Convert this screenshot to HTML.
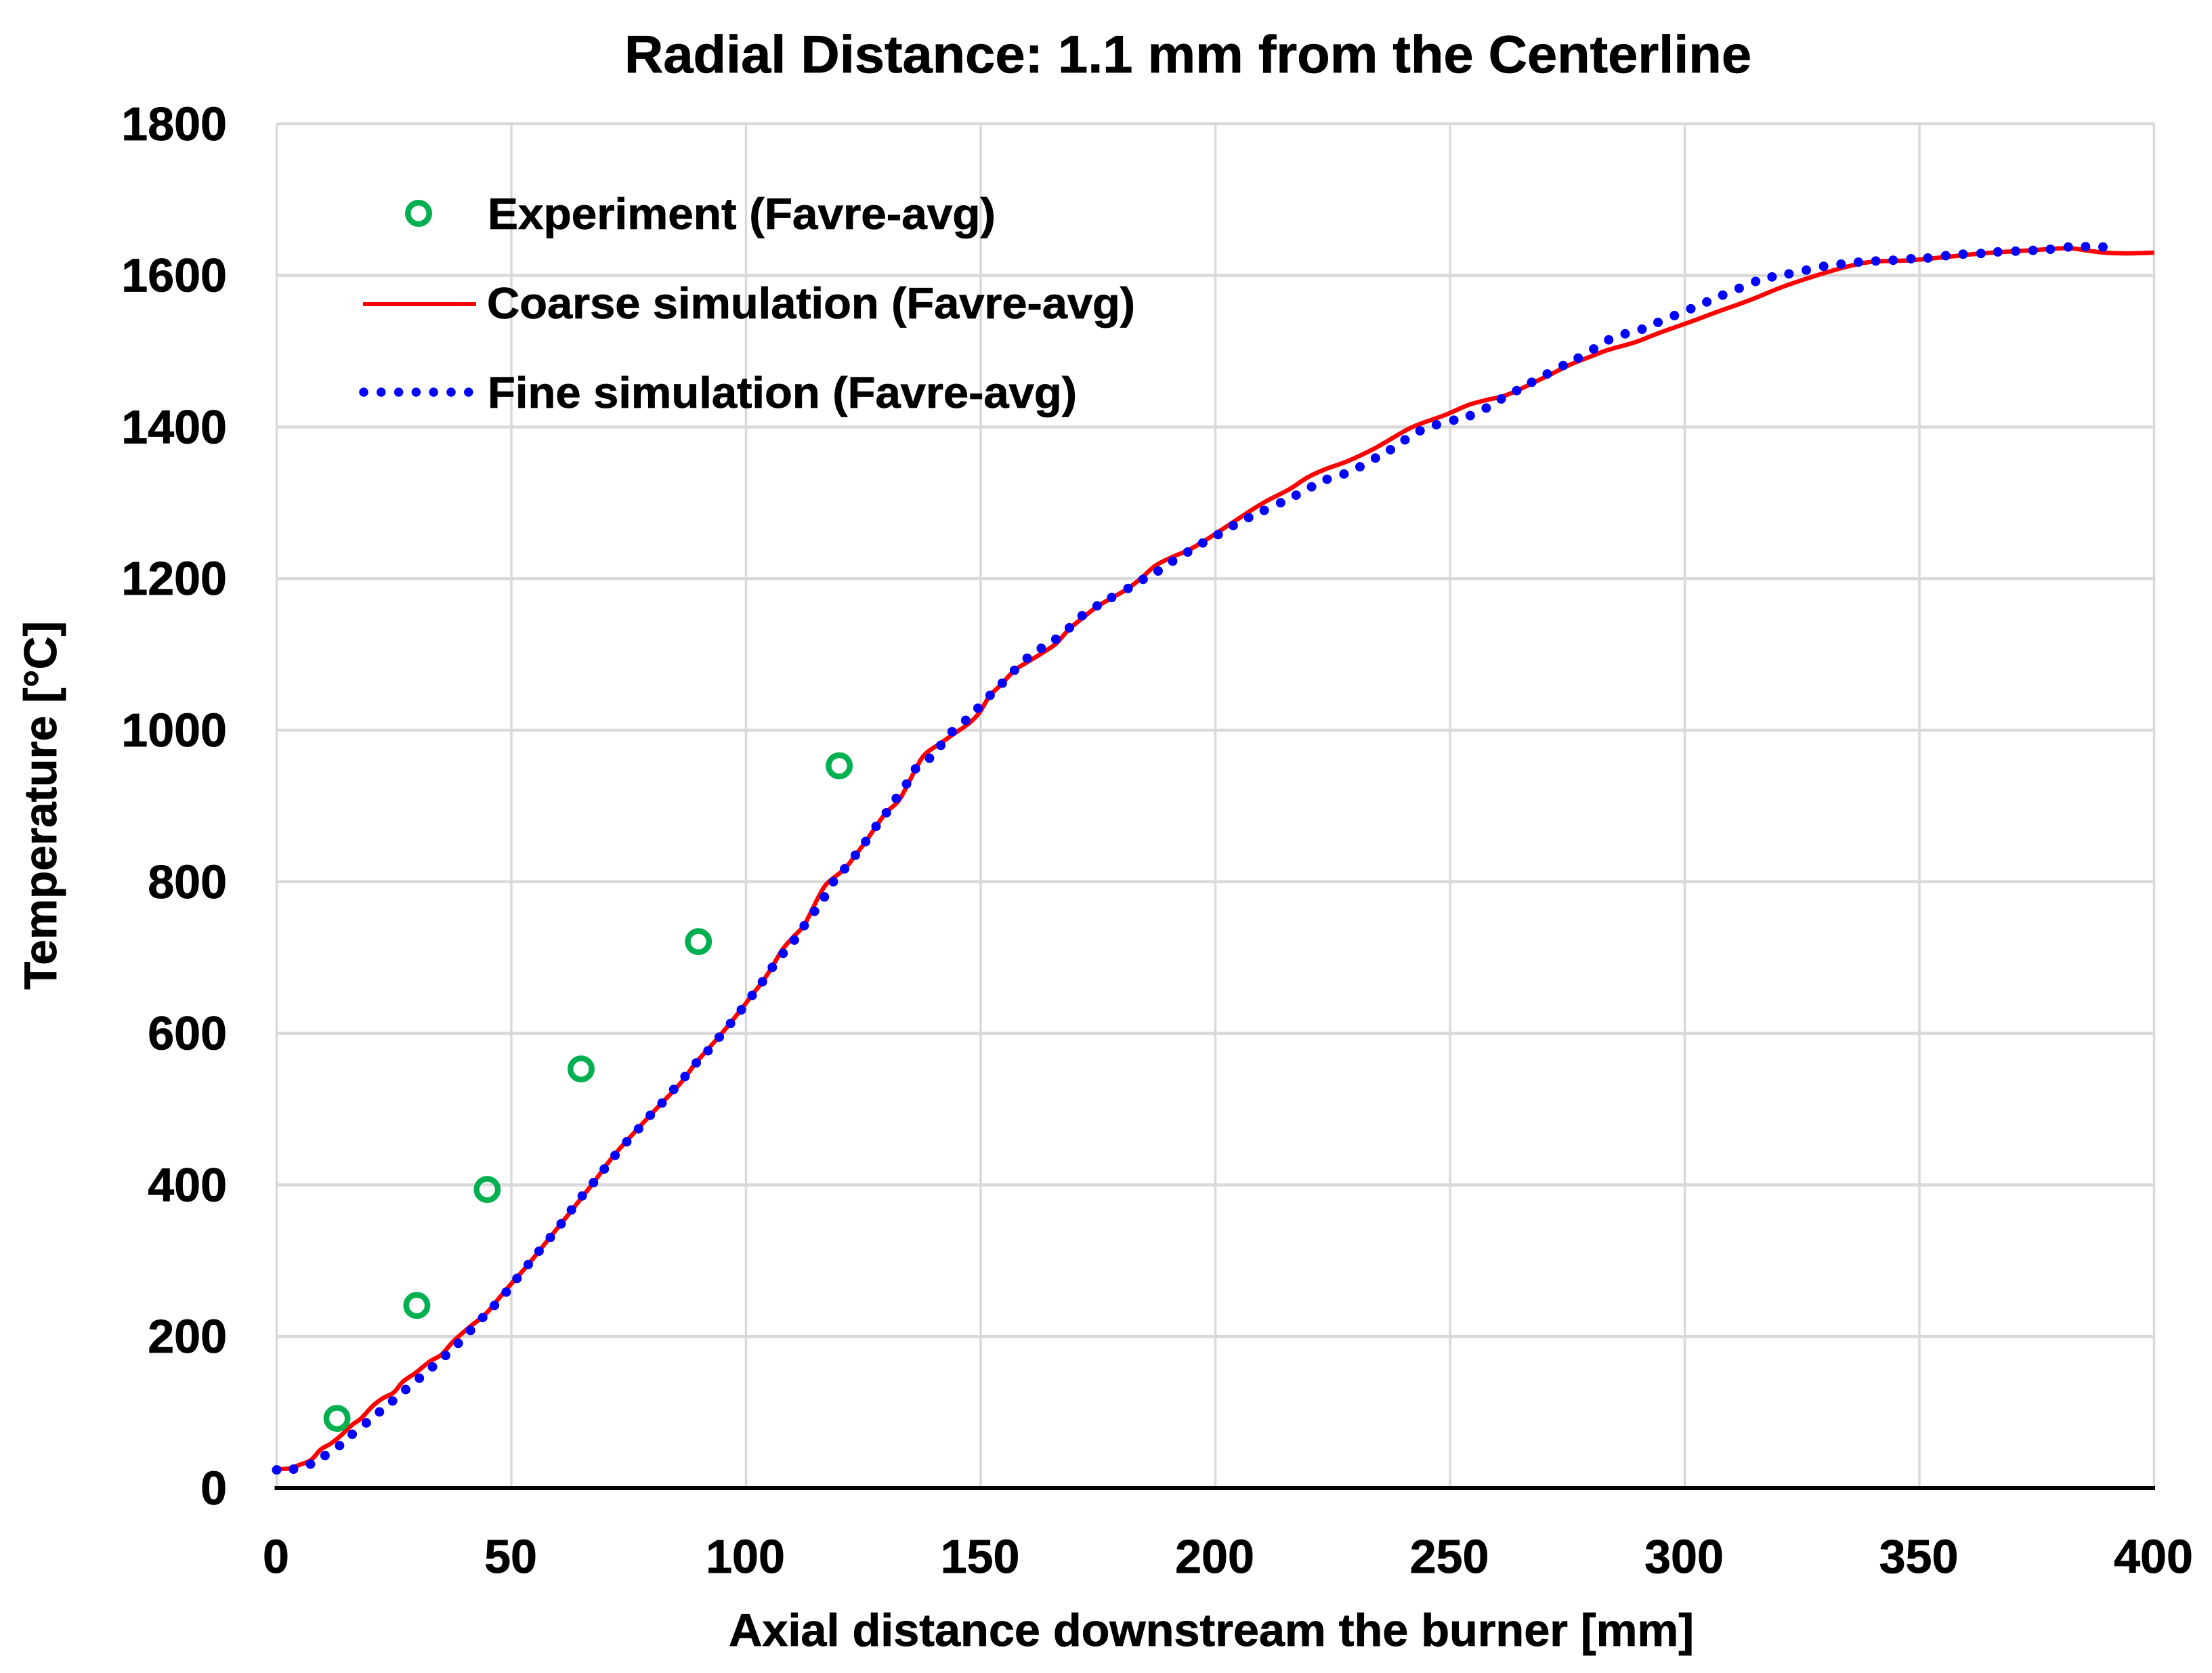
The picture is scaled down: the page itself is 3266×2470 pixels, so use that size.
<!DOCTYPE html>
<html lang="en">
<head>
<meta charset="utf-8">
<title>Radial Distance: 1.1 mm from the Centerline</title>
<style>
html,body{margin:0;padding:0;background:#fff;}
svg{display:block;}
text{font-family:"Liberation Sans",Arial,sans-serif;font-weight:700;fill:#000;stroke:#000;stroke-width:0.8px;}
</style>
</head>
<body>
<svg id="chart" xmlns="http://www.w3.org/2000/svg" width="3266" height="2470" viewBox="0 0 3266 2470">
  <rect x="0" y="0" width="3266" height="2470" fill="#fff"/>
  <g id="grid"></g>
  <line x1="405.5" y1="2197" x2="3182" y2="2197" stroke="#000" stroke-width="6"/>
  <g id="ticks"></g>
  <g id="series"></g>
  <text x="922" y="107" font-size="78" textLength="1664" lengthAdjust="spacingAndGlyphs">Radial Distance: 1.1 mm from the Centerline</text>
  <text x="1076" y="2430" font-size="68" textLength="1425" lengthAdjust="spacingAndGlyphs">Axial distance downstream the burner [mm]</text>
  <text transform="translate(83,1461) rotate(-90)" x="0" y="0" font-size="68" textLength="544" lengthAdjust="spacingAndGlyphs">Temperature [°C]</text>
  <g>
    <circle cx="618" cy="315" r="15.7" fill="none" stroke="#00b050" stroke-width="8.5"/>
    <text x="720" y="338" font-size="65" textLength="750" lengthAdjust="spacingAndGlyphs">Experiment (Favre-avg)</text>
    <line x1="536" y1="449" x2="703" y2="449" stroke="#ff0000" stroke-width="6"/>
    <text x="719" y="470" font-size="65" textLength="957" lengthAdjust="spacingAndGlyphs">Coarse simulation (Favre-avg)</text>
    <line x1="537" y1="579" x2="693" y2="579" stroke="#0000ff" stroke-width="13.5" stroke-linecap="round" stroke-dasharray="0 25.8"/>
    <text x="720" y="602" font-size="65" textLength="870" lengthAdjust="spacingAndGlyphs">Fine simulation (Favre-avg)</text>
  </g>
</svg>
<script>
const xTicks = [0, 50, 100, 150, 200, 250, 300, 350, 400];
const yTicks = [0, 200, 400, 600, 800, 1000, 1200, 1400, 1600, 1800];

const experimentX = [13, 30, 45, 65, 90, 120];
const experimentT = [92, 241, 394, 553, 721, 953];

const coarseX = [0, 2.7, 5, 7.3, 9.4, 11.6, 13.8, 16, 18, 20.4, 22.6, 24.9, 27, 29.6, 32.6, 35.1, 37.7, 41, 44.4, 46.9, 49.9, 53.6, 58, 62.8, 67.5, 72, 79.6, 86, 89.3, 94.3, 98.9, 101.2, 103.5, 105.5, 107.7, 109.9, 112.3, 114.3, 115.8, 117.3, 121, 123.3, 125.5, 127.7, 129.8, 132.4, 134.1, 136.1, 138.1, 141.6, 144.5, 147.5, 149.7, 151.9, 154.5, 157.2, 160, 162.9, 166, 168.8, 171.9, 174.8, 178.1, 181.4, 184.3, 187.2, 191, 194.1, 197.2, 200.5, 203.8, 207.1, 210.8, 215.8, 219.5, 223.3, 228.2, 234, 240.7, 244, 249, 253.9, 258, 261, 264.3, 267.6, 271.3, 275.5, 280.4, 283.8, 289.5, 294.5, 301.8, 306.5, 313.7, 320.9, 328.1, 335.2, 340, 348, 355.2, 363.2, 373.5, 381.5, 385.5, 389.5, 394.3, 400];
const coarseT = [25, 26, 31, 37, 51, 59, 70, 83, 92, 108, 118.5, 126, 141, 152, 167, 176, 194, 212, 229, 247, 269, 295, 329, 366, 403, 440, 492, 534, 561, 596, 631, 650, 668, 687, 710, 726, 742, 766, 784, 798, 817, 835, 853, 873, 891, 906, 924, 948, 968, 983.5, 996, 1009, 1023, 1045, 1061, 1079, 1090, 1101, 1114, 1133, 1149, 1163, 1175, 1187, 1201, 1217, 1229, 1237, 1248, 1261, 1274.5, 1288, 1302, 1318, 1333, 1344, 1355, 1372, 1396, 1405, 1416, 1429, 1436, 1440, 1448, 1458, 1469, 1482, 1494, 1502, 1512, 1524, 1540, 1551, 1567, 1585, 1600, 1612.5, 1618, 1620, 1624, 1629, 1633, 1636, 1633, 1630, 1629, 1630];

const fineX = [0, 3.6, 7.2, 10.3, 13.4, 16.1, 19.1, 21.9, 24.7, 27.5, 30.4, 33.2, 36, 38.7, 41.3, 43.9, 46.4, 48.9, 51.2, 53.6, 55.9, 58.3, 60.6, 62.8, 65.1, 67.5, 69.8, 72.1, 74.6, 77.1, 79.6, 82.1, 84.6, 87, 89.4, 91.9, 94.3, 96.7, 99, 101.3, 103.5, 105.6, 107.9, 110.3, 112.4, 114.6, 116.7, 118.6, 121, 123.3, 125.5, 127.7, 129.9, 132, 134.2, 136.1, 139.1, 141.5, 143.9, 146.8, 149.4, 152, 154.6, 157.2, 159.9, 162.9, 166, 168.9, 171.6, 174.8, 177.9, 181.4, 184.6, 187.8, 190.9, 194.1, 197.3, 200.6, 203.8, 207.1, 210.4, 213.9, 217.2, 220.5, 223.8, 227.4, 230.8, 234.1, 237.3, 240.4, 243.6, 247.1, 250.8, 254.3, 257.7, 260.9, 264.2, 267.4, 270.7, 274.1, 277.3, 280.6, 283.8, 287.3, 290.9, 294.3, 297.8, 301.3, 304.7, 308.1, 311.6, 315.1, 318.6, 322.2, 325.9, 329.6, 333.3, 337, 340.7, 344.4, 348.2, 351.8, 355.6, 359.3, 363.1, 366.7, 370.5, 374.2, 377.9, 381.7, 385.4, 389.1];
const fineT = [24, 25, 31.6, 43, 56, 71, 86, 100.5, 115, 130, 145, 160, 175, 191, 208, 225, 241, 258.6, 276.6, 295, 312.6, 330.6, 348.6, 367, 385.4, 403, 421, 439, 457, 474, 492, 508, 526, 543, 561, 577, 595, 613, 631, 650, 668, 687, 705.5, 723, 742, 761, 780, 800, 817, 835, 853, 873, 891, 910, 929, 949, 963, 980, 998, 1013, 1029, 1046, 1062, 1079, 1095, 1108, 1120, 1135, 1151, 1164, 1175, 1187, 1199, 1210, 1223, 1235, 1247, 1258, 1270, 1280.5, 1290, 1300, 1310, 1321, 1331, 1338, 1347.5, 1359, 1370, 1383, 1395, 1403, 1409, 1415, 1425, 1437, 1448, 1459, 1470, 1481, 1491, 1503, 1515, 1523, 1529, 1538, 1547, 1556, 1565, 1574, 1583, 1592, 1598, 1602, 1607, 1612, 1615, 1617.5, 1619, 1620, 1622, 1623, 1626, 1628, 1629, 1631, 1632, 1633, 1634.5, 1637.5, 1638, 1637.5];

const SVG_NS = 'http://www.w3.org/2000/svg';
const xScale = function (v) { return 408.5 + v * 6.93; };
const yScale = function (v) { return 2197 - v * 1.119; };

const gridGroup = document.getElementById('grid');
const tickGroup = document.getElementById('ticks');
const seriesGroup = document.getElementById('series');

xTicks.forEach(function (t) {
  const line = document.createElementNS(SVG_NS, 'line');
  
  
  line.setAttribute('x1', xScale(t));
  line.setAttribute('x2', xScale(t));
  line.setAttribute('y1', yScale(1800));
  line.setAttribute('y2', yScale(0));
  line.setAttribute('stroke', '#d9d9d9');
  line.setAttribute('stroke-width', '3.5');
  gridGroup.appendChild(line);

  const label = document.createElementNS(SVG_NS, 'text');
  
  
  label.setAttribute('x', xScale(t) - 1);
  label.setAttribute('y', 2322);
  label.setAttribute('font-size', '70');
  label.setAttribute('text-anchor', 'middle');
  label.textContent = String(t);
  tickGroup.appendChild(label);
});

yTicks.forEach(function (t) {
  if (t > 0) {
    const line = document.createElementNS(SVG_NS, 'line');
    
    
    line.setAttribute('x1', xScale(0));
    line.setAttribute('x2', xScale(400));
    line.setAttribute('y1', yScale(t));
    line.setAttribute('y2', yScale(t));
    line.setAttribute('stroke', '#d9d9d9');
    line.setAttribute('stroke-width', '4.5');
    gridGroup.appendChild(line);
  }

  const label = document.createElementNS(SVG_NS, 'text');
  
  
  label.setAttribute('x', 335);
  label.setAttribute('y', yScale(t) + 24);
  label.setAttribute('font-size', '70');
  label.setAttribute('text-anchor', 'end');
  label.textContent = String(t);
  tickGroup.appendChild(label);
});

function smoothPath(xs, ys) {
  const p = xs.map(function (x, i) { return [xScale(x), yScale(ys[i])]; });
  let d = 'M' + p[0][0].toFixed(2) + ' ' + p[0][1].toFixed(2);
  for (let i = 0; i < p.length - 1; i++) {
    const a = p[Math.max(i - 1, 0)];
    const b = p[i];
    const c = p[i + 1];
    const e = p[Math.min(i + 2, p.length - 1)];
    const c1x = b[0] + (c[0] - a[0]) / 6;
    const c1y = b[1] + (c[1] - a[1]) / 6;
    const c2x = c[0] - (e[0] - b[0]) / 6;
    const c2y = c[1] - (e[1] - b[1]) / 6;
    d += 'C' + c1x.toFixed(2) + ' ' + c1y.toFixed(2) + ' ' + c2x.toFixed(2) + ' ' + c2y.toFixed(2) + ' ' + c[0].toFixed(2) + ' ' + c[1].toFixed(2);
  }
  return d;
}

const coarsePath = document.createElementNS(SVG_NS, 'path');


coarsePath.setAttribute('d', smoothPath(coarseX, coarseT));
coarsePath.setAttribute('fill', 'none');
coarsePath.setAttribute('stroke', '#ff0000');
coarsePath.setAttribute('stroke-width', '6.5');
coarsePath.setAttribute('stroke-linejoin', 'round');
seriesGroup.appendChild(coarsePath);

fineX.forEach(function (x, i) {
  const dot = document.createElementNS(SVG_NS, 'circle');
  
  
  dot.setAttribute('cx', xScale(x));
  dot.setAttribute('cy', yScale(fineT[i]));
  dot.setAttribute('r', '7');
  dot.setAttribute('fill', '#0000ff');
  seriesGroup.appendChild(dot);
});

experimentX.forEach(function (x, i) {
  const ring = document.createElementNS(SVG_NS, 'circle');
  
  
  ring.setAttribute('cx', xScale(x) - 1);
  ring.setAttribute('cy', yScale(experimentT[i]));
  ring.setAttribute('r', '15.7');
  ring.setAttribute('fill', 'none');
  ring.setAttribute('stroke', '#00b050');
  ring.setAttribute('stroke-width', '8.5');
  seriesGroup.appendChild(ring);
});
</script>
</body>
</html>
